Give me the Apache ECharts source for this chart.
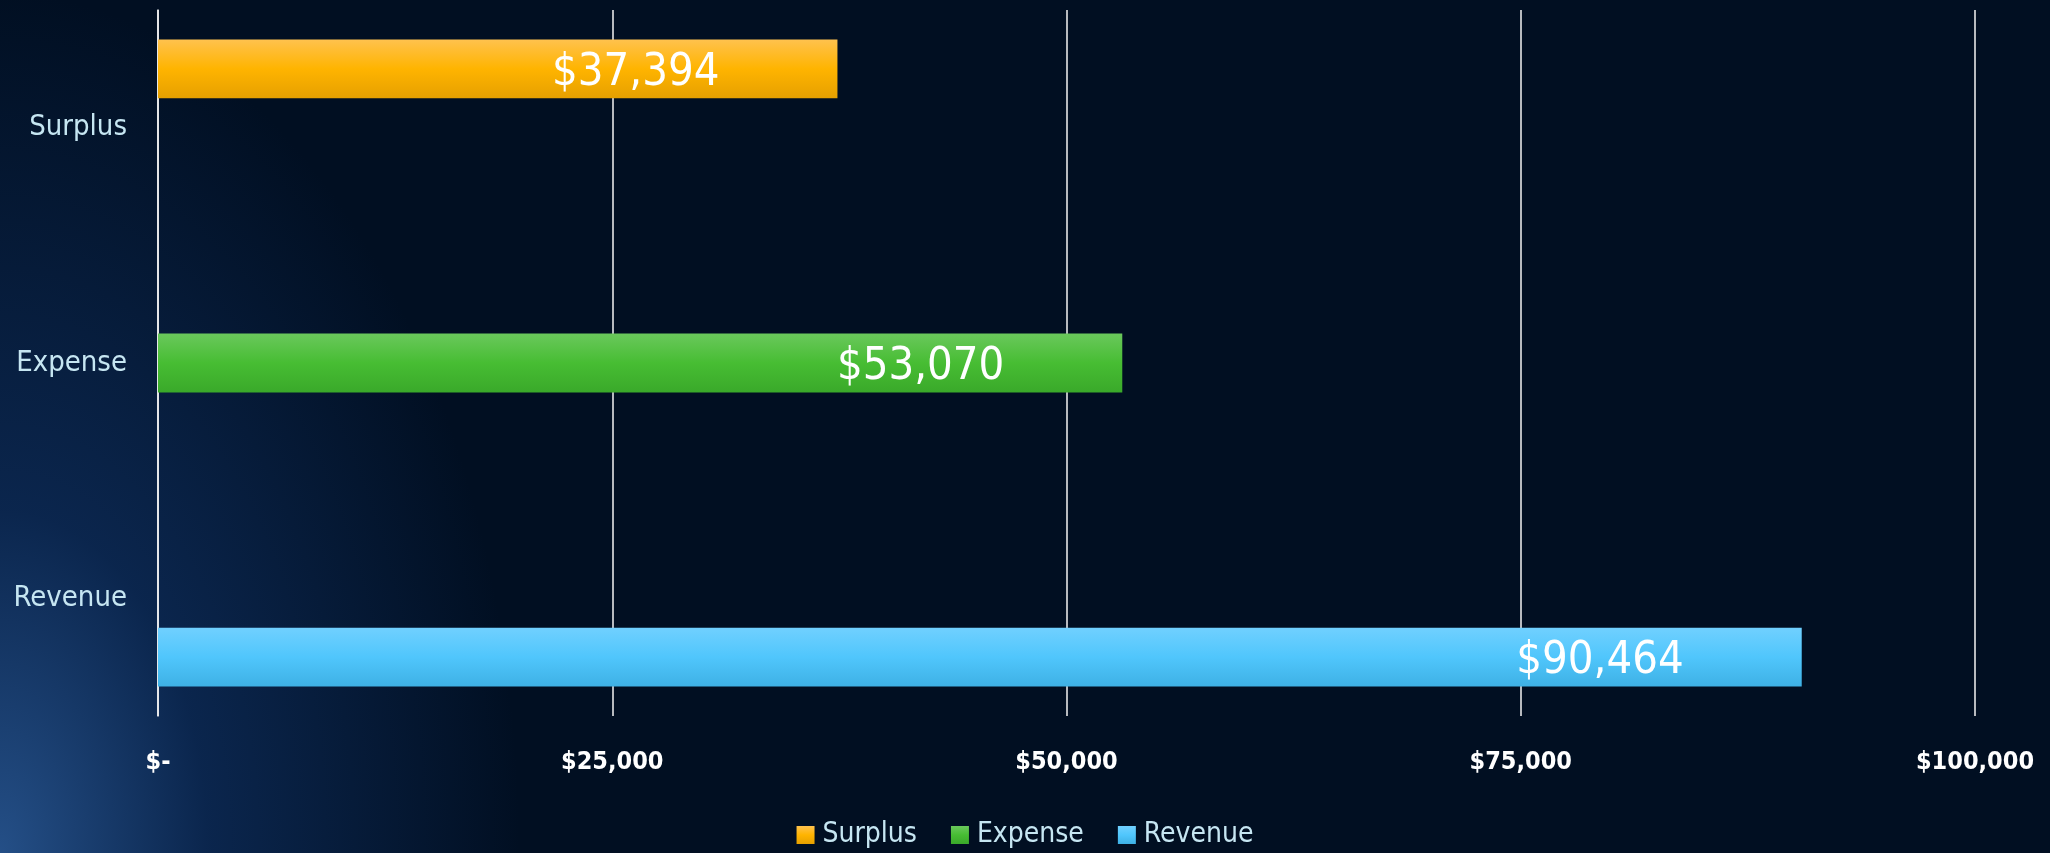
<!DOCTYPE html>
<html>
<head>
<meta charset="utf-8">
<script src="https://cdn.jsdelivr.net/npm/echarts@6/dist/echarts.min.js"></script>
<style>
  html, body { margin: 0; padding: 0; }
  #chart {
    width: 2050px;
    height: 853px;
    background:
      radial-gradient(ellipse 520px 860px at 0% 100%, rgba(45,95,160,0.8) 0%, rgba(20,60,120,0.5) 40%, rgba(1,15,34,0) 100%),
      #010f22;
  }
</style>
</head>
<body>
<div id="chart"></div>
<script>
// categories, bottom to top
let categories = ['Revenue', 'Expense', 'Surplus']
let surplus = [null, null, 37394]
let expense = [null, 53070, null]
let revenue = [90464, null, null]
let xTicks = [0, 25000, 50000, 75000, 100000]

function money (v) {
  return v === 0 ? '$-' : '$' + v.toLocaleString('en-US')
}

function grad (top, mid, bottom) {
  return new echarts.graphic.LinearGradient(0, 0, 0, 1, [
    { offset: 0, color: top },
    { offset: 0.5, color: mid },
    { offset: 1, color: bottom },
  ])
}

let font = 'DejaVu Sans Condensed'
let labelCfg = {
  show: true,
  position: 'insideRight',
  distance: 118,
  offset: [0, 4],
  color: '#ffffff',
  fontFamily: font,
  fontSize: 45,
  formatter: p => money(p.value),
}

let myChart = echarts.init(document.getElementById('chart'))
myChart.setOption({
  backgroundColor: 'transparent',
  animation: false,
  grid: {
    left: 158,
    right: 75,
    top: 10,
    bottom: 137,
  },
  legend: {
    data: ['Surplus', 'Expense', 'Revenue'],
    left: 'center',
    top: 816,
    itemWidth: 18,
    itemHeight: 18,
    itemGap: 34,
    icon: 'rect',
    textStyle: {
      color: '#c6e6f2',
      fontFamily: font,
      fontSize: 28,
      padding: [0, 0, 0, 3],
    },
  },
  xAxis: {
    type: 'value',
    min: xTicks[0],
    max: xTicks[xTicks.length - 1],
    interval: xTicks[1] - xTicks[0],
    axisLine: { show: false },
    axisTick: { show: false },
    splitLine: { show: true, lineStyle: { color: '#f4f4f4', width: 1.5 } },
    axisLabel: {
      color: '#ffffff',
      fontFamily: font,
      fontWeight: 'bold',
      fontSize: 25,
      margin: 34,
      formatter: money,
    },
  },
  yAxis: {
    type: 'category',
    data: categories,
    axisLine: { show: true, lineStyle: { color: '#f4f4f4', width: 1.5 } },
    axisTick: { show: false },
    axisLabel: {
      color: '#c6e6f2',
      fontFamily: font,
      fontSize: 29,
      margin: 31,
    },
  },
  series: [
    {
      name: 'Surplus',
      type: 'bar',
      data: surplus,
      barGap: '0%',
      barCategoryGap: '25%',
      itemStyle: { color: grad('#ffc24e', '#ffb400', '#e6a000') },
      label: labelCfg,
    },
    {
      name: 'Expense',
      type: 'bar',
      data: expense,
      itemStyle: { color: grad('#6ac85c', '#47bd33', '#3aa92a') },
      label: labelCfg,
    },
    {
      name: 'Revenue',
      type: 'bar',
      data: revenue,
      itemStyle: { color: grad('#70d0ff', '#50c6fc', '#3eb1e5') },
      label: labelCfg,
    },
  ],
})
</script>
</body>
</html>
